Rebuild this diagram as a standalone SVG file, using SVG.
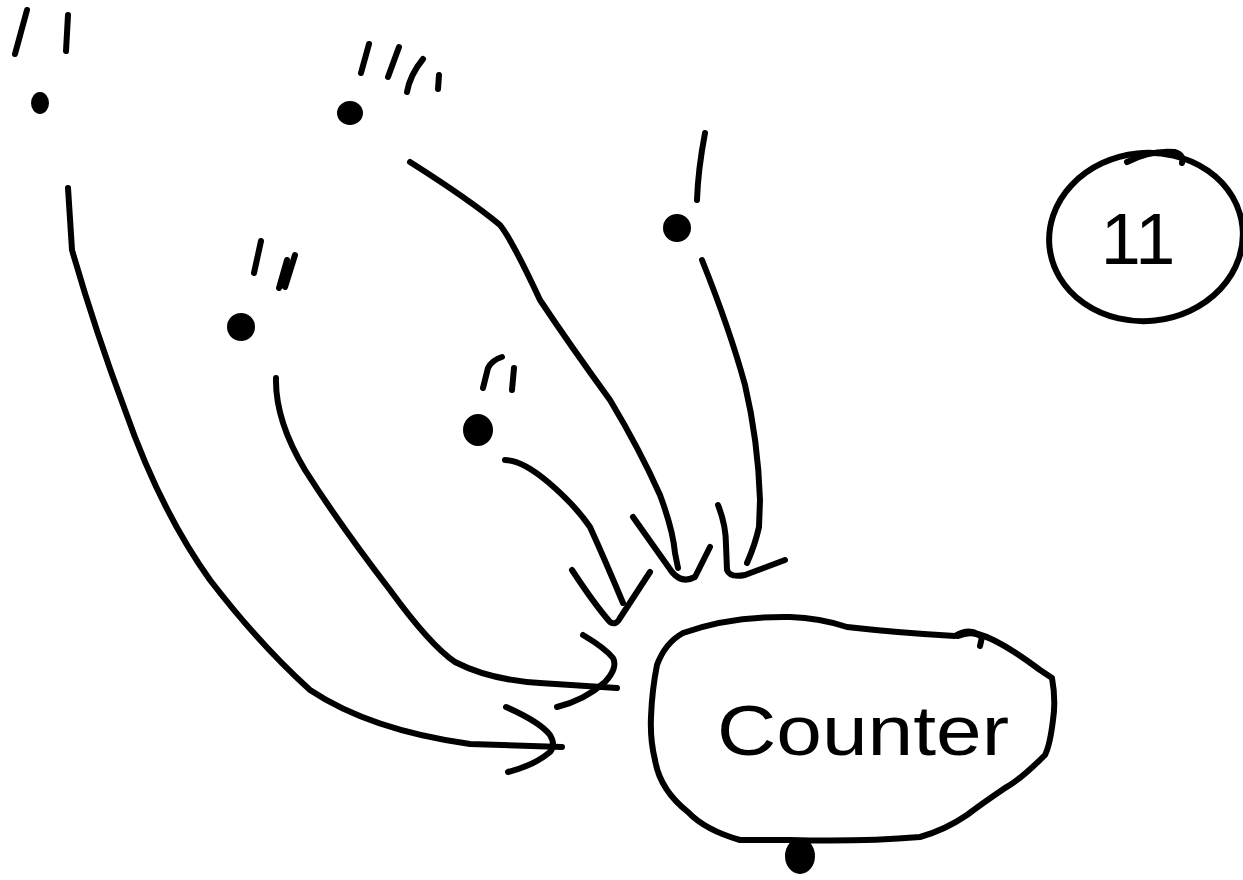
<svg xmlns="http://www.w3.org/2000/svg" width="1243" height="880" viewBox="0 0 1243 880">
<style>
.s{fill:none;stroke:#000;stroke-width:6;stroke-linecap:round;stroke-linejoin:round}
.d{fill:#000;stroke:#000;stroke-width:4}
.t{font-family:"Liberation Sans",Arial,sans-serif;fill:#000}
</style>
<rect width="1243" height="880" fill="#fff"/>
<g id="source-a">
<path class="s" d="M27 10 L15 54 M68 15 L66 51"/>
<ellipse class="d" cx="40" cy="103" rx="7" ry="9"/>
</g>
<g id="source-b">
<path class="s" d="M369 44 L361 73 M399 47 L388 77 M423 59 Q410 75 407 92 M439 75 L438 89"/>
<ellipse class="d" cx="350" cy="113" rx="11" ry="10"/>
</g>
<g id="source-c">
<path class="s" d="M261 241 L254 273 M287 260 L279 288 M295 255 L285 287"/>
<ellipse class="d" cx="241" cy="327" rx="12" ry="12"/>
</g>
<g id="source-d">
<path class="s" d="M483 388 L488 368 Q492 360 502 357 M514 368 L512 390"/>
<ellipse class="d" cx="478" cy="430" rx="13" ry="14"/>
</g>
<g id="source-e">
<path class="s" d="M705 133 Q698 170 697 200"/>
<ellipse class="d" cx="677" cy="228" rx="12" ry="12"/>
</g>
<g id="connectors">
<path class="s" d="M68 188 L72 250 Q95 330 125 410 Q160 510 210 580 Q260 645 310 690 Q370 730 470 744 L562 747"/>
<path class="s" d="M506 707 Q540 722 550 735 Q556 745 550 752 Q535 765 508 772"/>
<path class="s" d="M276 378 Q275 420 305 470 Q340 525 390 590 Q430 645 455 662 Q490 680 540 683 L617 688"/>
<path class="s" d="M583 635 Q605 648 613 658 Q618 668 605 682 Q585 700 557 707"/>
<path class="s" d="M505 460 Q522 460 548 482 Q575 505 590 527 Q605 560 623 603"/>
<path class="s" d="M572 570 Q595 605 610 622 Q616 626 620 618 L650 572"/>
<path class="s" d="M410 162 Q470 200 500 225 Q512 240 540 300 Q570 345 610 400 Q640 450 660 495 Q673 530 675 553 L678 568"/>
<path class="s" d="M633 517 Q660 555 672 572 Q682 584 695 577 L710 547"/>
<path class="s" d="M702 260 Q730 330 745 385 Q758 440 760 500 L759 527 Q755 545 747 563"/>
<path class="s" d="M718 505 Q726 525 726 545 L727 570 Q730 578 745 575 L785 560"/>
</g>
<g id="counter">
<path class="s" d="M683 633 Q730 616 790 617 Q820 618 847 627 Q900 633 955 636 Q968 628 978 634 Q1000 640 1040 670 L1052 678 Q1056 700 1053 720 Q1050 745 1045 755 Q1020 780 1005 788 Q980 805 967 815 Q945 830 920 837 Q860 842 790 840 L740 840 Q705 830 688 812 Q660 790 655 760 Q650 740 651 717 Q652 690 657 665 Q665 643 683 633 Z"/>
<path class="s" d="M958 636 Q972 630 982 637 L980 646"/>
<text class="t" x="863" y="755" font-size="70" text-anchor="middle" textLength="292" lengthAdjust="spacingAndGlyphs">Counter</text>
<ellipse class="d" cx="800" cy="856" rx="13" ry="16"/>
</g>
<g id="count-display">
<ellipse class="s" cx="1146" cy="237" rx="97" ry="84" transform="rotate(-6 1146 237)"/>
<path class="s" d="M1127 162 Q1150 150 1175 152 Q1184 155 1182 163"/>
<text class="t" x="1138" y="264" font-size="72" text-anchor="middle">11</text>
</g>
</svg>
